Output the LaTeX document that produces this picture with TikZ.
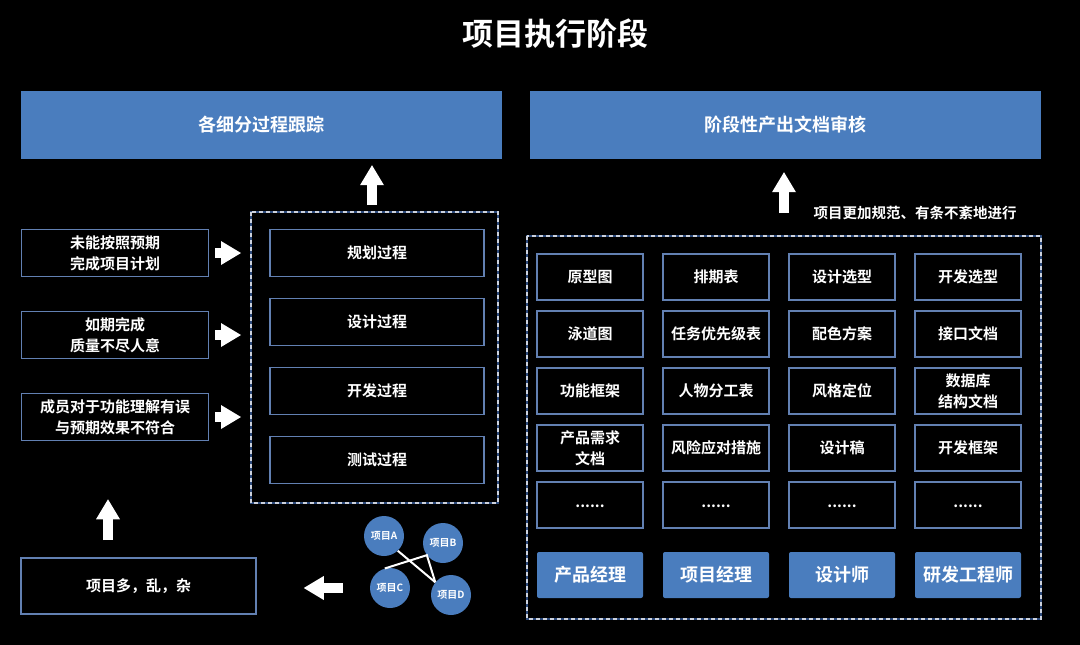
\documentclass[tikz,border=0pt]{standalone}
\usepackage{fontspec}
\setmainfont{Noto Sans CJK SC}[BoldFont={Noto Sans CJK SC Bold}]
\usetikzlibrary{arrows.meta}
\definecolor{hdblue}{RGB}{74,125,190}
\definecolor{edgeblue}{RGB}{98,128,178}
\definecolor{dashblue}{RGB}{45,75,125}
\definecolor{dashgray}{RGB}{205,210,222}
\newcommand{\moredots}{\raisebox{-6pt}{......}}
\tikzset{
  hdbox/.style={fill=hdblue, text=white, minimum height=68pt, inner sep=0pt, font=\fontsize{18}{22}\selectfont\bfseries},
  darkbox/.style={draw=edgeblue, line width=1.6pt, fill=black, text=white, inner sep=1pt, align=center, font=\fontsize{15}{21}\selectfont\bfseries},
  procbox/.style={darkbox, minimum width=214pt, minimum height=47pt},
  issuebox/.style={darkbox, minimum width=187pt, minimum height=47pt},
  docbox/.style={darkbox, minimum width=106pt, minimum height=46pt},
  rolebox/.style={fill=hdblue, rounded corners=2pt, text=white, minimum width=106pt, minimum height=46pt, inner sep=0pt, font=\fontsize{18}{22}\selectfont\bfseries},
  projcirc/.style={circle, fill=hdblue, text=white, minimum size=40pt, inner sep=0pt, font=\fontsize{10}{12}\selectfont\bfseries},
  framebase/.style={draw=dashblue, line width=1.6pt},
  framedash/.style={draw=dashgray, line width=1.6pt, dash pattern=on 4pt off 3pt},
  bigarrow/.style={draw=white, line width=10pt, -{Triangle[width=24pt,length=20pt,line width=0pt]}},
  linkline/.style={draw=white, line width=2pt}
}
\begin{document}
\begin{tikzpicture}[x=1pt,y=-1pt]
\fill[black] (0,0) rectangle (1080,645);

% title and headers
\node[text=white, font=\fontsize{31}{36}\selectfont\bfseries] (title) at (555,34) {项目执行阶段};
\node[hdbox, minimum width=481pt] (hdL) at (261.5,125) {各细分过程跟踪};
\node[hdbox, minimum width=511pt] (hdR) at (785.5,125) {阶段性产出文档审核};

% left part
\coordinate (lf1) at (251,212);
\coordinate (lf2) at (498,503);
\draw[framebase] (lf1) rectangle (lf2);
\draw[framedash] (lf1) rectangle (lf2);

\foreach \t [count=\i] in {规划过程,设计过程,开发过程,测试过程}
  \node[procbox] (proc\i) at (377,{253+69*(\i-1)}) {\t};

\node[issuebox] (iss1) at (115,253) {未能按照预期\\完成项目计划};
\node[issuebox] (iss2) at (115,335) {如期完成\\质量不尽人意};
\node[issuebox] (iss3) at (115,417) {成员对于功能理解有误\\与预期效果不符合};

\foreach \i in {1,2,3}
  \draw[bigarrow, shorten <=6pt, shorten >=10pt] (iss\i.east) -- (iss\i.east -| lf1);

\coordinate (upL) at (372,212);
\draw[bigarrow, shorten <=7pt, shorten >=6pt] (upL) -- (upL |- hdL.south);

\node[darkbox, minimum width=235pt, minimum height=56pt] (mess) at (138.5,586) {项目多，乱，杂};
\draw[bigarrow, shorten <=17pt, shorten >=58pt] ([xshift=-30.5pt]mess.north) -- ([xshift=-30.5pt]mess.north |- iss3.south);

% projects
\node[projcirc] (pA) at (384,536) {项目A};
\node[projcirc] (pB) at (443,543) {项目B};
\node[projcirc] (pC) at (390,588) {项目C};
\node[projcirc] (pD) at (451,595) {项目D};
\draw[linkline] (pA.313) -- (pD.141);
\draw[linkline] (pC.105) -- (pB.217) -- (pD.141);
\draw[bigarrow, shorten <=27pt, shorten >=47pt] (pC.west) -- (pC.west -| mess.east);

% right part
\coordinate (rf1) at (527,236);
\coordinate (rf2) at (1041,619);
\draw[framebase] (rf1) rectangle (rf2);
\draw[framedash] (rf1) rectangle (rf2);

\coordinate (upR) at (784,236);
\draw[bigarrow, shorten <=23pt, shorten >=13pt] (upR) -- (upR |- hdR.south);
\node[text=white, font=\fontsize{14.5}{18}\selectfont\bfseries] (note) at (915,213) {项目更加规范、有条不紊地进行};

\foreach \t [count=\r] in {原型图,泳道图,功能框架,{产品需求\\文档},\moredots}
  \node[docbox] (d1\r) at (590,{277+57*(\r-1)}) {\t};
\foreach \t [count=\r] in {排期表,任务优先级表,人物分工表,风险应对措施,\moredots}
  \node[docbox] (d2\r) at (716,{277+57*(\r-1)}) {\t};
\foreach \t [count=\r] in {设计选型,配色方案,风格定位,设计稿,\moredots}
  \node[docbox] (d3\r) at (842,{277+57*(\r-1)}) {\t};
\foreach \t [count=\r] in {开发选型,接口文档,{数据库\\结构文档},开发框架,\moredots}
  \node[docbox] (d4\r) at (968,{277+57*(\r-1)}) {\t};

\foreach \t [count=\i] in {产品经理,项目经理,设计师,研发工程师}
  \node[rolebox] (r\i) at ({590+126*(\i-1)},575) {\t};
\end{tikzpicture}
\end{document}
